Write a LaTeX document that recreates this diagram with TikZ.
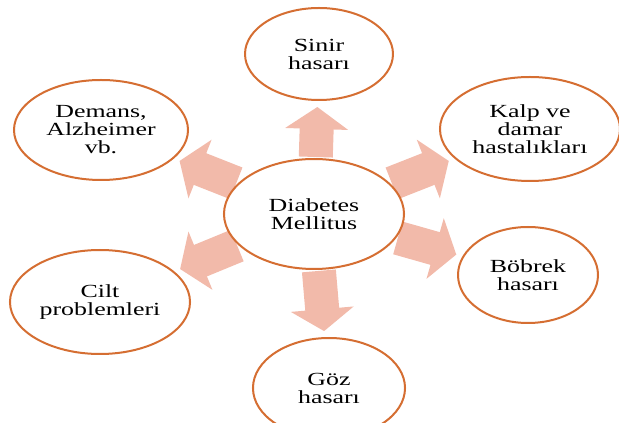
\documentclass[tikz,border=0pt]{standalone}
\usepackage{fontspec}
\setmainfont{Liberation Serif}
\usepackage{tikz}
\usetikzlibrary{shapes,arrows.meta,positioning}
\definecolor{bubbleline}{RGB}{213,110,50}
\definecolor{arrowfill}{RGB}{242,186,170}
\pgfdeclarelayer{background}
\pgfsetlayers{background,main}
\tikzset{
  bubble/.style={ellipse, draw=bubbleline, line width=2pt, fill=white, xscale=1.4,
                 inner sep=0pt, align=center, font=\fontsize{18.5}{18}\selectfont},
  flow/.style={draw=arrowfill, line width=34pt, -{Triangle[width=62pt,length=22pt]},
               shorten <=1pt, shorten >=6pt}
}
\newcommand{\bubblenode}[5]{node (#1) [bubble, minimum width=#2pt, minimum height=#3pt] at (#4) {#5}}

\begin{document}
\begin{tikzpicture}[x=1pt,y=1pt]
  \useasboundingbox (0,0) rectangle (619,423);

  % Draw diagram elements
  \path \bubblenode{dm}{128.6}{110}{314,209}{Diabetes\\Mellitus};
  \path \bubblenode{sinir}{105.7}{92}{319,369}{Sinir\\hasarı};
  \path \bubblenode{kalp}{128.6}{104}{530,294}{Kalp ve\\damar\\hastalıkları};
  \path \bubblenode{demans}{124.3}{100}{101,293}{Demans,\\Alzheimer\\vb.};
  \path \bubblenode{cilt}{128.6}{104}{100,121}{Cilt\\problemleri};
  \path \bubblenode{bobrek}{100}{96}{528,148}{Böbrek\\hasarı};
  \path \bubblenode{goz}{108.6}{100}{329,35}{Göz\\hasarı};

  % Draw arrows between elements
  \begin{pgfonlayer}{background}
    \path [flow] (dm) -- (sinir);
    \path [flow] (dm) -- (kalp);
    \path [flow] (dm) -- (bobrek);
    \path [flow] (dm) -- (goz);
    \path [flow] (dm) -- (cilt);
    \path [flow] (dm) -- (demans);
  \end{pgfonlayer}
\end{tikzpicture}
\end{document}
